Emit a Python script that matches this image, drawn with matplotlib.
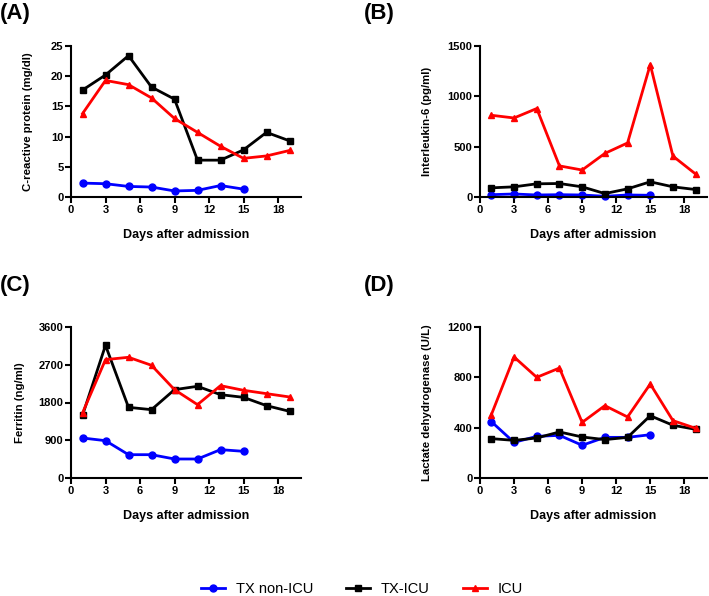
import matplotlib
matplotlib.use("Agg")
import matplotlib.pyplot as plt

plt.rcParams['font.family'] = ['Liberation Sans', 'DejaVu Sans']

# days of sampling
days = [1, 3, 5, 7, 9, 11, 13, 15, 17, 19]
days_nonicu = [1, 3, 5, 7, 9, 11, 13, 15]

# (A) C-reactive protein
crp_nonicu = [2.3, 2.2, 1.75, 1.65, 1.0, 1.1, 1.9, 1.3]
crp_txicu = [17.7, 20.2, 23.4, 18.2, 16.2, 6.1, 6.1, 7.8, 10.7, 9.3]
crp_icu = [13.8, 19.3, 18.6, 16.4, 13.0, 10.7, 8.4, 6.4, 6.8, 7.7]

# (B) Interleukin-6
il6_nonicu = [23, 30, 20, 23, 20, 7, 20, 17]
il6_txicu = [91, 101, 131, 134, 101, 34, 81, 151, 101, 74]
il6_icu = [812, 785, 879, 309, 268, 433, 537, 1315, 406, 228]

# (C) Ferritin
fer_nonicu = [954, 890, 556, 556, 453, 453, 676, 636]
fer_txicu = [1494, 3163, 1685, 1629, 2106, 2186, 1987, 1923, 1725, 1590]
fer_icu = [1550, 2822, 2878, 2687, 2106, 1749, 2202, 2091, 2011, 1932]

# (D) Lactate dehydrogenase
ldh_nonicu = [448, 283, 331, 339, 260, 323, 323, 344]
ldh_txicu = [313, 299, 318, 366, 326, 305, 323, 495, 419, 387]
ldh_icu = [503, 962, 800, 874, 442, 575, 485, 747, 456, 395]

panels = [
    ('(A)', 'C-reactive protein (mg/dl)', crp_nonicu, crp_txicu, crp_icu, 25, [0, 5, 10, 15, 20, 25]),
    ('(B)', 'Interleukin-6 (pg/ml)', il6_nonicu, il6_txicu, il6_icu, 1500, [0, 500, 1000, 1500]),
    ('(C)', 'Ferritin (ng/ml)', fer_nonicu, fer_txicu, fer_icu, 3600, [0, 900, 1800, 2700, 3600]),
    ('(D)', 'Lactate dehydrogenase (U/L)', ldh_nonicu, ldh_txicu, ldh_icu, 1200, [0, 400, 800, 1200]),
]

W, H = 709, 596
fig = plt.figure(figsize=(W / 100, H / 100), dpi=100)

# axes boxes in pixels: left, top, right, bottom
boxes = [(71, 46, 301, 197), (480, 46, 707, 197), (71, 327, 301, 478), (480, 327, 707, 478)]
label_pos = [(0, 13), (364, 13), (0, 286), (364, 286)]
ylab_x = [33, 432, 25, 432]

handles = None
for i, (lab, ylab, s1, s2, s3, ymax, yt) in enumerate(panels):
    l, t, r, b = boxes[i]
    ax = fig.add_axes([l / W, 1 - b / H, (r - l) / W, (b - t) / H])
    h1, = ax.plot(days_nonicu, s1, color='#0000FF', marker='o', markersize=5, lw=2, label='TX non-ICU')
    h2, = ax.plot(days, s2, color='black', marker='s', markersize=5, lw=2, label='TX-ICU')
    h3, = ax.plot(days, s3, color='#FF0000', marker='^', markersize=5, lw=2, label='ICU')
    handles = [h1, h2, h3]
    for h in handles:
        h.set_clip_on(False)
    ax.set_xlim(0, 20)
    ax.set_ylim(0, ymax)
    ax.set_xticks([0, 3, 6, 9, 12, 15, 18])
    ax.set_yticks(yt)
    for sp in ['top', 'right']:
        ax.spines[sp].set_visible(False)
    for sp in ['left', 'bottom']:
        ax.spines[sp].set_linewidth(1.5)
    ax.tick_params(width=1.5, length=4, labelsize=8, pad=1.5)
    for tl in ax.get_xticklabels() + ax.get_yticklabels():
        tl.set_fontweight('bold')
    ax.set_xlabel('Days after admission', fontsize=9, fontweight='bold', labelpad=10)
    ax.set_ylabel(ylab, fontsize=8.2, fontweight='bold')
    ax.yaxis.set_label_coords((ylab_x[i] - l) / (r - l), 0.5)
    fig.text(label_pos[i][0] / W, 1 - label_pos[i][1] / H, lab, fontsize=16, fontweight='bold',
             ha='left', va='center')

fig.legend(handles=handles, loc='center', bbox_to_anchor=(362 / W, 1 - 589 / H), ncol=3,
           frameon=False, fontsize=10.5, handlelength=1.6, columnspacing=2.3, handletextpad=0.75)

fig.savefig('out.png', dpi=100)
